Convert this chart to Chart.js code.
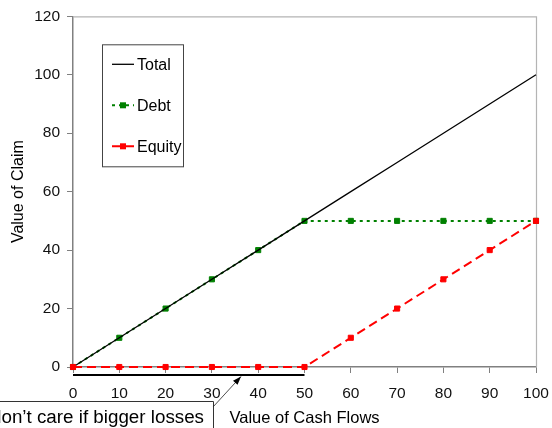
<!DOCTYPE html>
<html>
<head>
<meta charset="utf-8">
<script src="https://cdn.jsdelivr.net/npm/chart.js@4.4.0/dist/chart.umd.min.js"></script>
<style>
  html, body { margin: 0; padding: 0; background: #fff; }
  #wrap { width: 552px; height: 428px; position: relative; }
</style>
</head>
<body>
<div id="wrap"><canvas id="claims"></canvas></div>
<script>
// valeurs
const cashFlows = [0, 10, 20, 30, 40, 50, 60, 70, 80, 90, 100];
const totalValues = [0, 10, 20, 30, 40, 50, 60, 70, 80, 90, 100];
const debtValues = [0, 10, 20, 30, 40, 50, 50, 50, 50, 50, 50];
const equityValues = [0, 0, 0, 0, 0, 0, 10, 20, 30, 40, 50];
const seriesNames = ['Total', 'Debt', 'Equity'];
const yTicks = [0, 20, 40, 60, 80, 100, 120];
const noteText = 'don\u2019t care if bigger losses';
const noteRange = [0, 50];

const FONT = "'Liberation Sans', Arial, sans-serif";

function toPoints(values) {
  return cashFlows.map((x, i) => ({ x: x, y: values[i] }));
}

// cadre + légende + annotation
const extrasPlugin = {
  id: 'extras',
  beforeDatasetsDraw(chart) {
    const { ctx, chartArea: a } = chart;
    ctx.save();
    ctx.strokeStyle = '#b4b4b4';
    ctx.lineWidth = 1.2;
    ctx.beginPath();
    ctx.moveTo(a.left, a.top + 0.5);
    ctx.lineTo(a.right + 0.5, a.top + 0.5);
    ctx.lineTo(a.right + 0.5, a.bottom);
    ctx.stroke();
    ctx.restore();
  },
  afterDraw(chart) {
    const { ctx, chartArea: a, scales } = chart;
    ctx.save();

    // légende encadrée
    const bx = a.left + 29, by = a.top + 28, bw = 81, bh = 122;
    ctx.strokeStyle = '#444';
    ctx.lineWidth = 1;
    ctx.strokeRect(bx + 0.5, by + 0.5, bw, bh);
    const rows = [by + 20, by + 61, by + 102];
    chart.data.datasets.forEach((ds, i) => {
      const y = rows[i];
      ctx.strokeStyle = ds.borderColor;
      ctx.lineWidth = ds.borderWidth;
      ctx.setLineDash(ds.borderDash || []);
      ctx.beginPath();
      ctx.moveTo(bx + 10, y);
      ctx.lineTo(bx + 32, y);
      ctx.stroke();
      ctx.setLineDash([]);
      if (ds.pointRadius > 0) {
        ctx.fillStyle = ds.borderColor;
        ctx.fillRect(bx + 18, y - 3, 6, 6);
      }
      ctx.fillStyle = '#000';
      ctx.font = '16px ' + FONT;
      ctx.textBaseline = 'middle';
      ctx.textAlign = 'left';
      ctx.fillText(ds.label, bx + 35, y + 1);
    });

    // barre sous l'axe
    const x0 = scales.x.getPixelForValue(noteRange[0]);
    const x1 = scales.x.getPixelForValue(noteRange[1]);
    const barY = a.bottom + 8;
    ctx.strokeStyle = '#000';
    ctx.lineWidth = 2;
    ctx.beginPath();
    ctx.moveTo(x0, barY);
    ctx.lineTo(x1, barY);
    ctx.stroke();

    // boîte de texte
    const boxR = 213, boxT = 401;
    ctx.lineWidth = 1;
    ctx.strokeStyle = '#333';
    ctx.beginPath();
    ctx.moveTo(-5, boxT + 0.5);
    ctx.lineTo(boxR + 0.5, boxT + 0.5);
    ctx.lineTo(boxR + 0.5, 440);
    ctx.stroke();
    ctx.fillStyle = '#000';
    ctx.font = '18.8px ' + FONT;
    ctx.textBaseline = 'alphabetic';
    ctx.textAlign = 'right';
    ctx.fillText(noteText, 204, 423);

    // flèche
    const tipX = 241, tipY = barY + 1.5;
    const sx = boxR, sy = boxT + 6;
    ctx.strokeStyle = '#222';
    ctx.lineWidth = 0.8;
    ctx.beginPath();
    ctx.moveTo(sx, sy);
    ctx.lineTo(tipX, tipY);
    ctx.stroke();
    const ang = Math.atan2(tipY - sy, tipX - sx);
    ctx.fillStyle = '#000';
    ctx.beginPath();
    ctx.moveTo(tipX, tipY);
    ctx.lineTo(tipX - 9 * Math.cos(ang - 0.35), tipY - 9 * Math.sin(ang - 0.35));
    ctx.lineTo(tipX - 9 * Math.cos(ang + 0.35), tipY - 9 * Math.sin(ang + 0.35));
    ctx.closePath();
    ctx.fill();

    ctx.restore();
  }
};

new Chart(document.getElementById('claims').getContext('2d'), {
  type: 'line',
  data: {
    datasets: [
      {
        label: seriesNames[0],
        data: toPoints(totalValues),
        borderColor: '#000000',
        borderWidth: 1.3,
        pointRadius: 0,
        order: 1,
        clip: false
      },
      {
        label: seriesNames[1],
        data: toPoints(debtValues),
        borderColor: '#008000',
        backgroundColor: '#008000',
        borderWidth: 2,
        borderDash: [3, 4],
        pointStyle: 'rect',
        pointRadius: 3.6,
        pointBorderWidth: 1,
        order: 2,
        clip: false
      },
      {
        label: seriesNames[2],
        data: toPoints(equityValues),
        borderColor: '#ff0000',
        backgroundColor: '#ff0000',
        borderWidth: 2,
        borderDash: [9, 5],
        pointStyle: 'rect',
        pointRadius: 3.6,
        pointBorderWidth: 1,
        order: 0,
        clip: false
      }
    ]
  },
  options: {
    responsive: true,
    maintainAspectRatio: false,
    animation: false,
    layout: { padding: { top: 15, right: 0, left: 0, bottom: 0 } },
    plugins: {
      legend: { display: false },
      tooltip: { enabled: false }
    },
    scales: {
      x: {
        type: 'linear',
        min: 0,
        max: 100,
        afterFit(scale) {
          scale.height = 61;
          scale.paddingLeft = 0;
          scale.paddingRight = 16;
        },
        ticks: {
          stepSize: 10,
          color: '#111',
          font: { family: FONT, size: 15.5 },
          padding: 11,
          maxRotation: 0
        },
        grid: { display: true, drawOnChartArea: false, tickLength: 6, color: '#808080' },
        border: { color: '#808080', width: 1.5 },
        title: {
          display: true,
          text: 'Value of Cash Flows',
          color: '#000',
          font: { family: FONT, size: 16.5 },
          padding: { top: 0, bottom: 0 }
        }
      },
      y: {
        min: 0,
        max: 120,
        afterFit(scale) { scale.width = 73; },
        afterBuildTicks(scale) { scale.ticks = yTicks.map(v => ({ value: v })); },
        ticks: {
          color: '#111',
          font: { family: FONT, size: 15.5 },
          padding: 7
        },
        grid: { display: true, drawOnChartArea: false, tickLength: 6, color: '#808080' },
        border: { color: '#808080', width: 1.5 },
        title: {
          display: true,
          text: 'Value of Claim',
          color: '#000',
          font: { family: FONT, size: 16 },
          padding: { top: 9, bottom: 0 }
        }
      }
    }
  },
  plugins: [extrasPlugin]
});
</script>
</body>
</html>
